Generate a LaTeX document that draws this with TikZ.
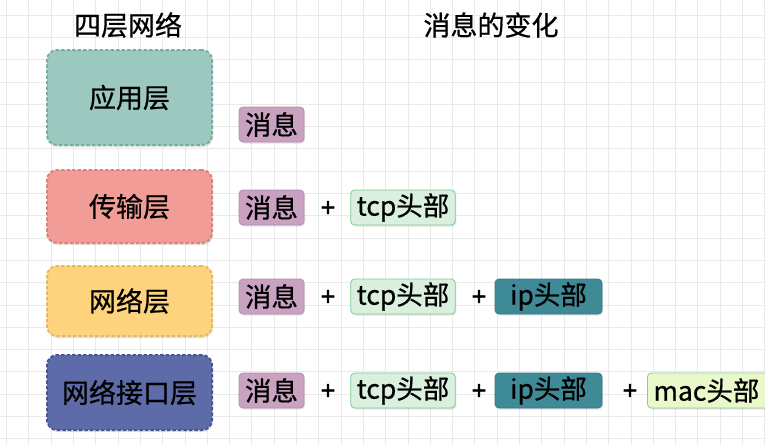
\documentclass[tikz,border=0pt]{standalone}
\usepackage{fontspec}
\setmainfont{Noto Sans CJK SC}[FakeBold=0.7]
\newfontfamily\plusfont{Noto Sans CJK SC}[FakeBold=2.5]
\usepackage{tikz}
\usetikzlibrary{shadows}

\definecolor{appfill}{HTML}{9CC9BF}
\definecolor{appline}{HTML}{78AEA2}
\definecolor{transfill}{HTML}{F19C96}
\definecolor{transline}{HTML}{DA827B}
\definecolor{netfill}{HTML}{FDD47D}
\definecolor{netline}{HTML}{E8B957}
\definecolor{linkfill}{HTML}{5D6BA9}
\definecolor{linkline}{HTML}{48558F}
\definecolor{msgfill}{HTML}{C9A1C1}
\definecolor{msgline}{HTML}{B68BAD}
\definecolor{tcpfill}{HTML}{D9F0DE}
\definecolor{tcpline}{HTML}{80C996}
\definecolor{ipfill}{HTML}{3E8A97}
\definecolor{ipline}{HTML}{357A86}
\definecolor{macfill}{HTML}{E9F9C9}
\definecolor{macline}{HTML}{8FCB8F}
\definecolor{gridcol}{HTML}{EAEAEA}

\begin{document}
\begin{tikzpicture}[x=1pt, y=-1pt,
    gridline/.style={gridcol, line width=0.7pt},
    heading/.style={font=\fontsize{27}{27}\selectfont, text=black},
    layer/.style={rounded corners=10pt, line width=2pt, dash pattern=on 3.5pt off 2pt,
        minimum width=165pt, inner sep=0pt, font=\fontsize{27}{27}\selectfont,
        drop shadow={shadow xshift=1pt, shadow yshift=-2pt, opacity=0.22}},
    part/.style={rounded corners=4pt, line width=0.8pt, minimum height=35pt,
        inner xsep=6pt, inner ysep=0pt, font=\fontsize{26.5}{26.5}\selectfont,
        drop shadow={shadow xshift=1pt, shadow yshift=-1.5pt, opacity=0.2}},
    plus/.style={font=\plusfont\fontsize{25}{25}\selectfont, inner sep=0pt}]
    \useasboundingbox (0,0) rectangle (765,445);
    \clip (0,0) rectangle (765,445);
    % Nền lưới
    \fill[white] (0,0) rectangle (765,445);
    \foreach \i in {0,...,34}
        \draw[gridline] ({6.5+22.3*\i},0) -- ({6.5+22.3*\i},445);
    \foreach \j in {0,...,19}
        \draw[gridline] (0,{15+22.3*\j}) -- (765,{15+22.3*\j});

    % Tiêu đề
    \node[heading] (titleLayers) at (128,25) {四层网络};
    \node[heading] (titleMsg) at (491,25) {消息的变化};

    % Bốn tầng
    \node[layer, fill=appfill, draw=appline, minimum height=95pt] (app) at (129.5,97.5) {应用层};
    \node[layer, fill=transfill, draw=transline, minimum height=73pt] (trans) at (129.5,206.5) {传输层};
    \node[layer, fill=netfill, draw=netline, minimum height=70pt] (net) at (129.5,301) {网络层};
    \node[layer, fill=linkfill, draw=linkline, minimum height=75pt] (link) at (129.5,392.5) {网络接口层};

    % Hàng 1
    \node[part, fill=msgfill, draw=msgline] (msgA) at (271.5,124.5) {消息};
    % Hàng 2
    \node[part, fill=msgfill, draw=msgline] (msgB) at (271.5,207.5) {消息};
    \node[plus] (plusB1) at (328,209) {+};
    \node[part, fill=tcpfill, draw=tcpline] (tcpB) at (403,207.5) {tcp头部};
    % Hàng 3
    \node[part, fill=msgfill, draw=msgline] (msgC) at (271.5,296.5) {消息};
    \node[plus] (plusC1) at (328,298) {+};
    \node[part, fill=tcpfill, draw=tcpline] (tcpC) at (403,296.5) {tcp头部};
    \node[plus] (plusC2) at (479,298) {+};
    \node[part, fill=ipfill, draw=ipline, minimum width=107pt] (ipC) at (548.5,296.5) {ip头部};
    % Hàng 4
    \node[part, fill=msgfill, draw=msgline] (msgD) at (271.5,390.5) {消息};
    \node[plus] (plusD1) at (328,392) {+};
    \node[part, fill=tcpfill, draw=tcpline] (tcpD) at (403,390.5) {tcp头部};
    \node[plus] (plusD2) at (479,392) {+};
    \node[part, fill=ipfill, draw=ipline, minimum width=107pt] (ipD) at (548.5,390.5) {ip头部};
    \node[plus] (plusD3) at (630,392) {+};
    \node[part, fill=macfill, draw=macline, anchor=west, minimum width=130pt,
        text width=118pt, align=left] (macD) at (647,390.5) {mac头部};
\end{tikzpicture}
\end{document}
